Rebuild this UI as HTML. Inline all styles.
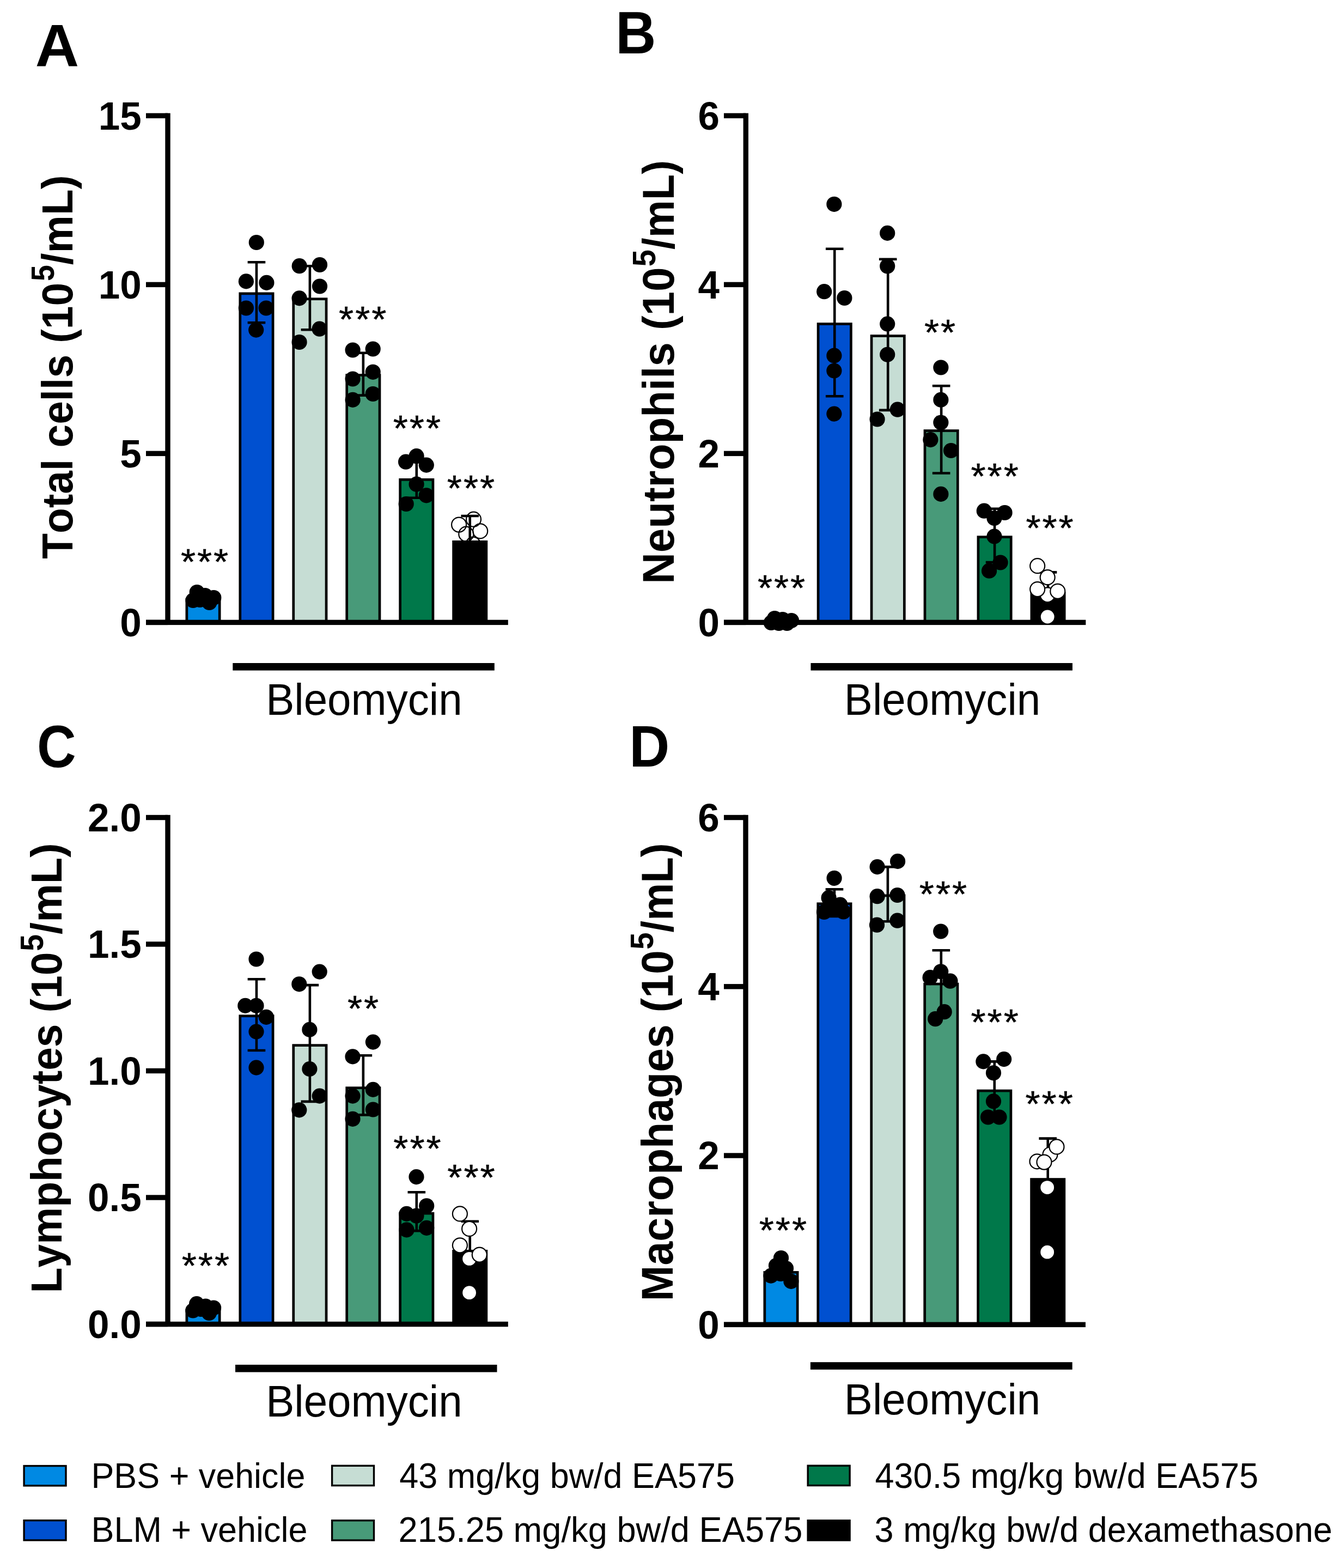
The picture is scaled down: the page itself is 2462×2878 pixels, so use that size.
<!DOCTYPE html>
<html><head><meta charset="utf-8"><title>Figure</title>
<style>
html,body{margin:0;padding:0;background:#fff;}
body{width:2462px;height:2878px;overflow:hidden;}
svg{display:block;}
text{font-family:'Liberation Sans', Arial, sans-serif;fill:#000;font-kerning:none;font-feature-settings:"kern" 0;}
.tk{font-size:71px;font-weight:700;text-anchor:end;}
.sg{font-size:69.7px;font-weight:400;stroke:#000;stroke-width:0.5px;}
.yl{font-weight:700;}
.pl{font-weight:700;}
.bl{font-weight:400;}
.lg{font-weight:400;}
</style></head>
<body><svg width="2462" height="2878" viewBox="0 0 2462 2878">
<rect width="2462" height="2878" fill="#fff"/>
<g><rect x="342.85" y="1100.35" width="60.3" height="42.05" fill="#0089E3" stroke="#000" stroke-width="4.7"/><rect x="440.8" y="538.85" width="60.3" height="603.55" fill="#0050D0" stroke="#000" stroke-width="4.7"/><rect x="538.75" y="548.75" width="60.3" height="593.65" fill="#C6DDD4" stroke="#000" stroke-width="4.7"/><rect x="636.7" y="688.55" width="60.3" height="453.85" fill="#489A79" stroke="#000" stroke-width="4.7"/><rect x="734.65" y="880.35" width="60.3" height="262.05" fill="#00784A" stroke="#000" stroke-width="4.7"/><rect x="832.6" y="994.35" width="60.3" height="148.05" fill="#000000" stroke="#000" stroke-width="4.7"/><rect x="303.3" y="207.7" width="9.4" height="934.7"/><rect x="268" y="1137.7" width="664.8" height="9.4"/><rect x="268" y="1137.7" width="40" height="9.4"/><text class="tk" transform="translate(259.7 1167.8) scale(1 1.03)">0</text><rect x="268" y="827.7" width="40" height="9.4"/><text class="tk" transform="translate(259.7 857.8) scale(1 1.03)">5</text><rect x="268" y="517.7" width="40" height="9.4"/><text class="tk" transform="translate(259.7 547.8) scale(1 1.03)">10</text><rect x="268" y="207.7" width="40" height="9.4"/><text class="tk" transform="translate(259.7 237.8) scale(1 1.03)">15</text><path d="M470.95 481.2V592.3M454.65 481.2H487.25M454.65 592.3H487.25" stroke="#000" stroke-width="4.6" fill="none"/><path d="M568.9 488.2V605.2M552.6 488.2H585.2M552.6 605.2H585.2" stroke="#000" stroke-width="4.6" fill="none"/><path d="M666.85 647.7V725.6M650.55 647.7H683.15M650.55 725.6H683.15" stroke="#000" stroke-width="4.6" fill="none"/><path d="M764.8 842V913.8M748.5 842H781.1M748.5 913.8H781.1" stroke="#000" stroke-width="4.6" fill="none"/><path d="M862.75 947V1037M846.45 947H879.05M846.45 1037H879.05" stroke="#000" stroke-width="4.6" fill="none"/><circle cx="361.7" cy="1087" r="14.1"/><circle cx="376.5" cy="1093" r="14.1"/><circle cx="392.3" cy="1097" r="14.1"/><circle cx="354.5" cy="1102" r="14.1"/><circle cx="367" cy="1101" r="14.1"/><circle cx="384.3" cy="1106" r="14.1"/><circle cx="470.8" cy="445" r="14.1"/><circle cx="451.9" cy="516.4" r="14.1"/><circle cx="489.4" cy="518.9" r="14.1"/><circle cx="451.9" cy="565.5" r="14.1"/><circle cx="488.6" cy="565.5" r="14.1"/><circle cx="470.2" cy="605.6" r="14.1"/><circle cx="549.7" cy="488.2" r="14.1"/><circle cx="587" cy="486" r="14.1"/><circle cx="587" cy="525.5" r="14.1"/><circle cx="549.6" cy="547.4" r="14.1"/><circle cx="586.6" cy="603.7" r="14.1"/><circle cx="549.6" cy="628" r="14.1"/><circle cx="647.6" cy="642.5" r="14.1"/><circle cx="684.7" cy="640.5" r="14.1"/><circle cx="684.7" cy="682.8" r="14.1"/><circle cx="647.6" cy="695.5" r="14.1"/><circle cx="684.7" cy="723" r="14.1"/><circle cx="647.6" cy="733.9" r="14.1"/><circle cx="745.1" cy="847.7" r="14.1"/><circle cx="764.6" cy="837.2" r="14.1"/><circle cx="782.8" cy="853.6" r="14.1"/><circle cx="764.6" cy="888.7" r="14.1"/><circle cx="782.8" cy="909.4" r="14.1"/><circle cx="745.7" cy="925" r="14.1"/><circle cx="842.6" cy="963.1" r="13.5" fill="none" stroke="#000" stroke-width="2.2"/><circle cx="869.5" cy="953.2" r="13.5" fill="none" stroke="#000" stroke-width="2.2"/><circle cx="881.7" cy="974.8" r="13.5" fill="none" stroke="#000" stroke-width="2.2"/><circle cx="855.8" cy="980.2" r="13.5" fill="none" stroke="#000" stroke-width="2.2"/><circle cx="868.7" cy="999.2" r="13.5" fill="none" stroke="#000" stroke-width="2.2"/><circle cx="850" cy="1010" r="13.5" fill="none" stroke="#000" stroke-width="2.2"/><text class="sg" x="0 30.1 60.2" y="0" transform="translate(331.88 1054.36) scale(1 0.9481)">***</text><text class="sg" x="0 30.1 60.2" y="0" transform="translate(622.08 609.26) scale(1 0.9481)">***</text><text class="sg" x="0 30.1 60.2" y="0" transform="translate(721.68 809.16) scale(1 0.9481)">***</text><text class="sg" x="0 30.1 60.2" y="0" transform="translate(820.78 919.36) scale(1 0.9481)">***</text></g>
<g><rect x="1404.15" y="1142.35" width="60.3" height="0.05" fill="#0089E3" stroke="#000" stroke-width="4.7"/><rect x="1502.1" y="594.55" width="60.3" height="547.85" fill="#0050D0" stroke="#000" stroke-width="4.7"/><rect x="1600.05" y="616.55" width="60.3" height="525.85" fill="#C6DDD4" stroke="#000" stroke-width="4.7"/><rect x="1698" y="790.55" width="60.3" height="351.85" fill="#489A79" stroke="#000" stroke-width="4.7"/><rect x="1795.95" y="985.65" width="60.3" height="156.75" fill="#00784A" stroke="#000" stroke-width="4.7"/><rect x="1893.9" y="1088.95" width="60.3" height="53.45" fill="#000000" stroke="#000" stroke-width="4.7"/><rect x="1364.6" y="207.7" width="9.4" height="934.7"/><rect x="1329" y="1137.7" width="664.4" height="9.4"/><rect x="1329" y="1137.7" width="40.3" height="9.4"/><text class="tk" transform="translate(1321 1167.8) scale(1 1.03)">0</text><rect x="1329" y="827.7" width="40.3" height="9.4"/><text class="tk" transform="translate(1321 857.8) scale(1 1.03)">2</text><rect x="1329" y="517.7" width="40.3" height="9.4"/><text class="tk" transform="translate(1321 547.8) scale(1 1.03)">4</text><rect x="1329" y="207.7" width="40.3" height="9.4"/><text class="tk" transform="translate(1321 237.8) scale(1 1.03)">6</text><path d="M1532.25 456.8V727.2M1515.95 456.8H1548.55M1515.95 727.2H1548.55" stroke="#000" stroke-width="4.6" fill="none"/><path d="M1630.2 475.8V752.9M1613.9 475.8H1646.5M1613.9 752.9H1646.5" stroke="#000" stroke-width="4.6" fill="none"/><path d="M1728.15 708.2V868.5M1711.85 708.2H1744.45M1711.85 868.5H1744.45" stroke="#000" stroke-width="4.6" fill="none"/><path d="M1826.1 933.8V1032M1809.8 933.8H1842.4M1809.8 1032H1842.4" stroke="#000" stroke-width="4.6" fill="none"/><path d="M1924.05 1050.4V1122.8M1907.75 1050.4H1940.35M1907.75 1122.8H1940.35" stroke="#000" stroke-width="4.6" fill="none"/><circle cx="1422.2" cy="1135" r="14.1"/><circle cx="1436.8" cy="1137" r="14.1"/><circle cx="1453" cy="1139" r="14.1"/><circle cx="1415.8" cy="1143" r="14.1"/><circle cx="1430" cy="1144" r="14.1"/><circle cx="1444.9" cy="1144" r="14.1"/><circle cx="1531.4" cy="374.8" r="14.1"/><circle cx="1513.2" cy="535.2" r="14.1"/><circle cx="1550.4" cy="547" r="14.1"/><circle cx="1531.4" cy="652.7" r="14.1"/><circle cx="1531.4" cy="680.5" r="14.1"/><circle cx="1531.4" cy="759.6" r="14.1"/><circle cx="1629.2" cy="427.9" r="14.1"/><circle cx="1629.2" cy="488.5" r="14.1"/><circle cx="1629.2" cy="594.6" r="14.1"/><circle cx="1629.2" cy="650.8" r="14.1"/><circle cx="1647.8" cy="751.7" r="14.1"/><circle cx="1610.6" cy="769.5" r="14.1"/><circle cx="1727.4" cy="674.5" r="14.1"/><circle cx="1727.4" cy="733.9" r="14.1"/><circle cx="1727.4" cy="775.5" r="14.1"/><circle cx="1708.4" cy="807.1" r="14.1"/><circle cx="1746" cy="827" r="14.1"/><circle cx="1727.4" cy="906.9" r="14.1"/><circle cx="1806.8" cy="937.7" r="14.1"/><circle cx="1844.6" cy="941" r="14.1"/><circle cx="1825.5" cy="951" r="14.1"/><circle cx="1825.5" cy="984.6" r="14.1"/><circle cx="1836.6" cy="1032.5" r="14.1"/><circle cx="1816.1" cy="1047.7" r="14.1"/><circle cx="1923.2" cy="1091.8" r="13.5" fill="#ffffff" stroke="#000" stroke-width="2.2"/><circle cx="1904.7" cy="1038.7" r="13.5" fill="#ffffff" stroke="#000" stroke-width="2.2"/><circle cx="1923.2" cy="1132" r="13.5" fill="#ffffff" stroke="#000" stroke-width="2.2"/><circle cx="1904.7" cy="1081.6" r="13.5" fill="#ffffff" stroke="#000" stroke-width="2.2"/><circle cx="1941.8" cy="1085.3" r="13.5" fill="#ffffff" stroke="#000" stroke-width="2.2"/><circle cx="1923.2" cy="1059.7" r="13.5" fill="#ffffff" stroke="#000" stroke-width="2.2"/><text class="sg" x="0 30.1 60.2" y="0" transform="translate(1390.88 1102.26) scale(1 0.9481)">***</text><text class="sg" x="0 30.1" y="0" transform="translate(1696.88 633.16) scale(1 0.9481)">**</text><text class="sg" x="0 30.1 60.2" y="0" transform="translate(1782.48 896.86) scale(1 0.9481)">***</text><text class="sg" x="0 30.1 60.2" y="0" transform="translate(1883.38 991.86) scale(1 0.9481)">***</text></g>
<g><rect x="342.85" y="2405.35" width="60.3" height="25.15" fill="#0089E3" stroke="#000" stroke-width="4.7"/><rect x="440.8" y="1864.75" width="60.3" height="565.75" fill="#0050D0" stroke="#000" stroke-width="4.7"/><rect x="538.75" y="1918.65" width="60.3" height="511.85" fill="#C6DDD4" stroke="#000" stroke-width="4.7"/><rect x="636.7" y="1996.75" width="60.3" height="433.75" fill="#489A79" stroke="#000" stroke-width="4.7"/><rect x="734.65" y="2227.15" width="60.3" height="203.35" fill="#00784A" stroke="#000" stroke-width="4.7"/><rect x="832.6" y="2296.25" width="60.3" height="134.25" fill="#000000" stroke="#000" stroke-width="4.7"/><rect x="303.3" y="1495.8" width="9.4" height="934.7"/><rect x="268" y="2425.8" width="664.8" height="9.4"/><rect x="268" y="2425.8" width="40" height="9.4"/><text class="tk" transform="translate(259.7 2455.9) scale(1 1.03)">0.0</text><rect x="268" y="2193.3" width="40" height="9.4"/><text class="tk" transform="translate(259.7 2223.4) scale(1 1.03)">0.5</text><rect x="268" y="1960.8" width="40" height="9.4"/><text class="tk" transform="translate(259.7 1990.9) scale(1 1.03)">1.0</text><rect x="268" y="1728.3" width="40" height="9.4"/><text class="tk" transform="translate(259.7 1758.4) scale(1 1.03)">1.5</text><rect x="268" y="1495.8" width="40" height="9.4"/><text class="tk" transform="translate(259.7 1525.9) scale(1 1.03)">2.0</text><path d="M470.95 1797.2V1928M454.65 1797.2H487.25M454.65 1928H487.25" stroke="#000" stroke-width="4.6" fill="none"/><path d="M568.9 1808.1V2021.9M552.6 1808.1H585.2M552.6 2021.9H585.2" stroke="#000" stroke-width="4.6" fill="none"/><path d="M666.85 1937.2V2046.4M650.55 1937.2H683.15M650.55 2046.4H683.15" stroke="#000" stroke-width="4.6" fill="none"/><path d="M764.8 2188.3V2259.1M748.5 2188.3H781.1M748.5 2259.1H781.1" stroke="#000" stroke-width="4.6" fill="none"/><path d="M862.75 2241.8V2346M846.45 2241.8H879.05M846.45 2346H879.05" stroke="#000" stroke-width="4.6" fill="none"/><circle cx="361.1" cy="2393.2" r="14.1"/><circle cx="377.5" cy="2397.7" r="14.1"/><circle cx="392.1" cy="2400.5" r="14.1"/><circle cx="354.3" cy="2405.5" r="14.1"/><circle cx="369" cy="2403" r="14.1"/><circle cx="383.9" cy="2410" r="14.1"/><circle cx="470.5" cy="1760.5" r="14.1"/><circle cx="450.3" cy="1845.9" r="14.1"/><circle cx="470.5" cy="1845.9" r="14.1"/><circle cx="488.8" cy="1866.8" r="14.1"/><circle cx="470.5" cy="1893.6" r="14.1"/><circle cx="470.5" cy="1959.6" r="14.1"/><circle cx="586.7" cy="1783.6" r="14.1"/><circle cx="549.3" cy="1806.3" r="14.1"/><circle cx="568.4" cy="1889.9" r="14.1"/><circle cx="568.4" cy="1962.1" r="14.1"/><circle cx="586.7" cy="2011.6" r="14.1"/><circle cx="549.3" cy="2037.3" r="14.1"/><circle cx="684.9" cy="1912.6" r="14.1"/><circle cx="647.5" cy="1939.4" r="14.1"/><circle cx="684.9" cy="1999.9" r="14.1"/><circle cx="647.5" cy="2011.6" r="14.1"/><circle cx="684.9" cy="2036.5" r="14.1"/><circle cx="647.5" cy="2053.8" r="14.1"/><circle cx="764.5" cy="2160.1" r="14.1"/><circle cx="783.2" cy="2213.3" r="14.1"/><circle cx="746.5" cy="2227.9" r="14.1"/><circle cx="764.5" cy="2231.6" r="14.1"/><circle cx="746.5" cy="2257.4" r="14.1"/><circle cx="783.2" cy="2253.8" r="14.1"/><circle cx="861.6" cy="2372.7" r="13.5" fill="#ffffff" stroke="#000" stroke-width="2.2"/><circle cx="861.6" cy="2310.4" r="13.5" fill="#ffffff" stroke="#000" stroke-width="2.2"/><circle cx="880.3" cy="2303.1" r="13.5" fill="#ffffff" stroke="#000" stroke-width="2.2"/><circle cx="844.4" cy="2285.8" r="13.5" fill="#ffffff" stroke="#000" stroke-width="2.2"/><circle cx="861.6" cy="2255.4" r="13.5" fill="#ffffff" stroke="#000" stroke-width="2.2"/><circle cx="844.4" cy="2227.9" r="13.5" fill="#ffffff" stroke="#000" stroke-width="2.2"/><text class="sg" x="0 30.1 60.2" y="0" transform="translate(333.68 2345.56) scale(1 0.9481)">***</text><text class="sg" x="0 30.1" y="0" transform="translate(637.98 1874.46) scale(1 0.9481)">**</text><text class="sg" x="0 30.1 60.2" y="0" transform="translate(722.28 2131.06) scale(1 0.9481)">***</text><text class="sg" x="0 30.1 60.2" y="0" transform="translate(821.28 2184.36) scale(1 0.9481)">***</text></g>
<g><rect x="1403.85" y="2335.35" width="60.3" height="95.95" fill="#0089E3" stroke="#000" stroke-width="4.7"/><rect x="1501.8" y="1658.75" width="60.3" height="772.55" fill="#0050D0" stroke="#000" stroke-width="4.7"/><rect x="1599.75" y="1643.85" width="60.3" height="787.45" fill="#C6DDD4" stroke="#000" stroke-width="4.7"/><rect x="1697.7" y="1806.05" width="60.3" height="625.25" fill="#489A79" stroke="#000" stroke-width="4.7"/><rect x="1795.65" y="2002.05" width="60.3" height="429.25" fill="#00784A" stroke="#000" stroke-width="4.7"/><rect x="1893.6" y="2164.55" width="60.3" height="266.75" fill="#000000" stroke="#000" stroke-width="4.7"/><rect x="1364.3" y="1495.8" width="9.4" height="935.5"/><rect x="1329" y="2426.6" width="664" height="9.4"/><rect x="1329" y="2426.6" width="40" height="9.4"/><text class="tk" transform="translate(1320.7 2456.7) scale(1 1.03)">0</text><rect x="1329" y="2116.3" width="40" height="9.4"/><text class="tk" transform="translate(1320.7 2146.4) scale(1 1.03)">2</text><rect x="1329" y="1806.1" width="40" height="9.4"/><text class="tk" transform="translate(1320.7 1836.2) scale(1 1.03)">4</text><rect x="1329" y="1495.8" width="40" height="9.4"/><text class="tk" transform="translate(1320.7 1525.9) scale(1 1.03)">6</text><path d="M1531.95 1632.3V1682M1515.65 1632.3H1548.25M1515.65 1682H1548.25" stroke="#000" stroke-width="4.6" fill="none"/><path d="M1629.9 1591.1V1691.3M1613.6 1591.1H1646.2M1613.6 1691.3H1646.2" stroke="#000" stroke-width="4.6" fill="none"/><path d="M1727.85 1744.2V1863M1711.55 1744.2H1744.15M1711.55 1863H1744.15" stroke="#000" stroke-width="4.6" fill="none"/><path d="M1825.8 1948.4V2050.5M1809.5 1948.4H1842.1M1809.5 2050.5H1842.1" stroke="#000" stroke-width="4.6" fill="none"/><path d="M1923.75 2089.6V2234.8M1907.45 2089.6H1940.05M1907.45 2234.8H1940.05" stroke="#000" stroke-width="4.6" fill="none"/><circle cx="1434" cy="2309" r="14.1"/><circle cx="1425" cy="2323" r="14.1"/><circle cx="1443" cy="2328" r="14.1"/><circle cx="1415.4" cy="2341.6" r="14.1"/><circle cx="1433" cy="2338" r="14.1"/><circle cx="1452.4" cy="2351.8" r="14.1"/><circle cx="1531.6" cy="1611.8" r="14.1"/><circle cx="1521.6" cy="1647.9" r="14.1"/><circle cx="1542.5" cy="1660.7" r="14.1"/><circle cx="1513" cy="1674" r="14.1"/><circle cx="1531" cy="1668" r="14.1"/><circle cx="1548.4" cy="1673.5" r="14.1"/><circle cx="1610.6" cy="1591.1" r="14.1"/><circle cx="1648.1" cy="1580.9" r="14.1"/><circle cx="1610.6" cy="1645.2" r="14.1"/><circle cx="1647.5" cy="1643" r="14.1"/><circle cx="1610" cy="1697.7" r="14.1"/><circle cx="1647.5" cy="1689.7" r="14.1"/><circle cx="1727.2" cy="1709.5" r="14.1"/><circle cx="1727.2" cy="1783.3" r="14.1"/><circle cx="1707.6" cy="1794.2" r="14.1"/><circle cx="1744.5" cy="1800.7" r="14.1"/><circle cx="1733.7" cy="1857.2" r="14.1"/><circle cx="1717.2" cy="1870.2" r="14.1"/><circle cx="1805.4" cy="1948.4" r="14.1"/><circle cx="1843.2" cy="1944.1" r="14.1"/><circle cx="1824" cy="1969.3" r="14.1"/><circle cx="1824" cy="2021.4" r="14.1"/><circle cx="1814" cy="2050.5" r="14.1"/><circle cx="1834.5" cy="2050.5" r="14.1"/><circle cx="1922.7" cy="2298.2" r="13.5" fill="#ffffff" stroke="#000" stroke-width="2.2"/><circle cx="1922.7" cy="2179.6" r="13.5" fill="#ffffff" stroke="#000" stroke-width="2.2"/><circle cx="1928" cy="2119" r="13.5" fill="#ffffff" stroke="#000" stroke-width="2.2"/><circle cx="1904" cy="2131.8" r="13.5" fill="#ffffff" stroke="#000" stroke-width="2.2"/><circle cx="1917" cy="2133.1" r="13.5" fill="#ffffff" stroke="#000" stroke-width="2.2"/><circle cx="1940" cy="2104.9" r="13.5" fill="#ffffff" stroke="#000" stroke-width="2.2"/><text class="sg" x="0 30.1 60.2" y="0" transform="translate(1393.68 2281.36) scale(1 0.9481)">***</text><text class="sg" x="0 30.1 60.2" y="0" transform="translate(1687.78 1664.36) scale(1 0.9481)">***</text><text class="sg" x="0 30.1 60.2" y="0" transform="translate(1782.48 1898.56) scale(1 0.9481)">***</text><text class="sg" x="0 30.1 60.2" y="0" transform="translate(1882.48 2048.86) scale(1 0.9481)">***</text></g>
<text class="yl" font-size="76.66" transform="translate(133.4 1025.86) rotate(-90) scale(1 1.0485)">Total cells (10</text>
<text class="yl" font-size="53.26" transform="translate(99.22 515.94) rotate(-90) scale(1 1.1167)">5</text>
<text class="yl" font-size="78.15" transform="translate(133.4 486.16) rotate(-90) scale(1 1.0286)">/mL)</text>
<text class="yl" font-size="79.85" transform="translate(1237 1071.84) rotate(-90) scale(1 1.0175)">Neutrophils (10</text>
<text class="yl" font-size="55.67" transform="translate(1202.51 489.31) rotate(-90) scale(1 1.0786)">5</text>
<text class="yl" font-size="77.76" transform="translate(1237 457.96) rotate(-90) scale(1 1.0449)">/mL)</text>
<text class="yl" font-size="76.57" transform="translate(113.3 2373.22) rotate(-90) scale(1 1.0440)">Lymphocytes (10</text>
<text class="yl" font-size="55.27" transform="translate(79.12 1745.7) rotate(-90) scale(1 1.0761)">5</text>
<text class="yl" font-size="79.46" transform="translate(113.3 1714.88) rotate(-90) scale(1 1.0060)">/mL)</text>
<text class="yl" font-size="78.83" transform="translate(1234.5 2388.17) rotate(-90) scale(1 1.0325)">Macrophages (10</text>
<text class="yl" font-size="56.27" transform="translate(1199.41 1742.83) rotate(-90) scale(1 1.0645)">5</text>
<text class="yl" font-size="77.81" transform="translate(1234.5 1711.46) rotate(-90) scale(1 1.0462)">/mL)</text>
<text class="pl" font-size="111.34" transform="translate(64.63 120.9) scale(1 0.9778)">A</text>
<text class="pl" font-size="102.65" transform="translate(1130.33 98.3) scale(1 1.0592)">B</text>
<text class="pl" font-size="99.26" transform="translate(67.93 1407.53) scale(1 1.1042)">C</text>
<text class="pl" font-size="102.56" transform="translate(1155.14 1406.9) scale(1 1.0544)">D</text>
<rect x="427.3" y="1217" width="480.5" height="13.6"/>
<text class="bl" font-size="78.15" transform="translate(488.19 1311.9) scale(1 1.0378)">Bleomycin</text>
<rect x="1488.5" y="1217" width="480.5" height="13.6"/>
<text class="bl" font-size="78.15" transform="translate(1549.79 1311.9) scale(1 1.0378)">Bleomycin</text>
<rect x="432" y="2504.9" width="480.5" height="13.6"/>
<text class="bl" font-size="78.15" transform="translate(488.19 2599.7) scale(1 1.0397)">Bleomycin</text>
<rect x="1487.9" y="2500.2" width="480.8" height="13.6"/>
<text class="bl" font-size="78.15" transform="translate(1549.79 2595.6) scale(1 1.0211)">Bleomycin</text>
<rect x="44.1" y="2690.6" width="76.9" height="36.3" fill="#0089E3" stroke="#000" stroke-width="3.4"/>
<text class="lg" font-size="62.85" transform="translate(167.44 2730.8) scale(1 1.0406)">PBS + vehicle</text>
<rect x="44.1" y="2790.7" width="76.9" height="36.3" fill="#0050D0" stroke="#000" stroke-width="3.4"/>
<text class="lg" font-size="62.96" transform="translate(167.44 2829.9) scale(1 1.0159)">BLM + vehicle</text>
<rect x="609.6" y="2690.3" width="76.9" height="36.3" fill="#C6DDD4" stroke="#000" stroke-width="3.4"/>
<text class="lg" font-size="62.94" transform="translate(733.36 2730.8) scale(1 1.0392)">43 mg/kg bw/d EA575</text>
<rect x="609.6" y="2790.8" width="76.9" height="36.3" fill="#489A79" stroke="#000" stroke-width="3.4"/>
<text class="lg" font-size="63.25" transform="translate(731.62 2829.9) scale(1 1.0111)">215.25 mg/kg bw/d EA575</text>
<rect x="1483.2" y="2690.2" width="76.9" height="36.3" fill="#00784A" stroke="#000" stroke-width="3.4"/>
<text class="lg" font-size="62.99" transform="translate(1606.55 2730.8) scale(1 1.0385)">430.5 mg/kg bw/d EA575</text>
<rect x="1483.2" y="2790.8" width="76.9" height="36.3" fill="#000000" stroke="#000" stroke-width="3.4"/>
<text class="lg" font-size="63" transform="translate(1605.6 2829.9) scale(1 1.0152)">3 mg/kg bw/d dexamethasone</text>
</svg></body></html>
